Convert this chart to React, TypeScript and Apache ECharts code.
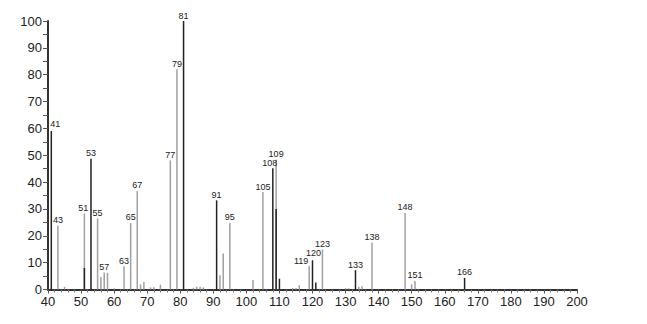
import React, { useEffect, useRef } from "react";
import * as echarts from "echarts";

const grayMz = [43, 45, 51, 55, 56, 57, 58, 60, 63, 65, 67, 68, 69, 71, 72, 74, 77, 79, 84, 85, 86, 87, 92, 93, 95, 102, 105, 109, 114, 115, 116, 119, 123, 130, 131, 134, 135, 138, 148, 150, 151];
const grayInt = [23.7, 1, 28.3, 26.5, 4.7, 6.3, 6.2, 0.5, 8.7, 24.8, 36.7, 1.9, 2.8, 0.8, 0.8, 1.8, 48.1, 82, 0.6, 1, 1, 0.8, 5.3, 13.4, 24.8, 3.5, 36.3, 48.3, 0.6, 0.6, 1.6, 8.8, 14.9, 0.5, 0.5, 1, 1.2, 17.5, 28.5, 1.9, 3.2];
const blackMz = [41, 51, 53, 81, 91, 108, 109, 110, 120, 121, 133, 166];
const blackInt = [59, 8, 48.7, 100, 33.2, 45.2, 30, 4, 10.9, 2.6, 7.2, 4.3];
const labeledMz = [41, 43, 51, 53, 55, 57, 63, 65, 67, 77, 79, 81, 91, 95, 105, 108, 109, 119, 120, 123, 133, 138, 148, 151, 166];
const labelShift: Record<number, number[]> = { 41: [4, -2], 108: [-3, 0], 119: [-8, 1], 120: [1, -2], 51: [-1, 0] };
const blackLabelOwner = [41, 53, 81, 91, 108, 120, 133, 166];

export default function App() {
  const ref = useRef<HTMLDivElement>(null);
  useEffect(() => {
    if (!ref.current) return;
    const chart = echarts.init(ref.current, undefined, { renderer: "svg" });
    const mk = (mz: number[], it: number[], color: string, isBlack: boolean) =>
      mz.map((m, i) => {
        const showLabel = labeledMz.includes(m) && (isBlack ? blackLabelOwner.includes(m) : !blackLabelOwner.includes(m));
        return {
          value: [m, it[i]],
          itemStyle: { color },
          label: showLabel
            ? { show: true, formatter: String(m), offset: labelShift[m] || [0, 0] }
            : { show: false },
        };
      });
    const labelCommon = {
      position: "top",
      distance: 1,
      fontSize: 9,
      color: "#222",
      fontFamily: "Liberation Sans, Arial, sans-serif",
    };
    chart.setOption({
      animation: false,
      grid: { left: 48, right: 70, top: 21, bottom: 34.5 },
      xAxis: {
        type: "value",
        min: 40,
        max: 200,
        interval: 10,
        axisLine: { show: true, lineStyle: { color: "#333", width: 2 } },
        axisTick: { show: true, length: 4, lineStyle: { color: "#555" } },
        minorTick: { show: true, splitNumber: 5, length: 3, lineStyle: { color: "#777" } },
        splitLine: { show: false },
        axisLabel: { fontSize: 13, color: "#222", margin: 5, fontFamily: "Liberation Sans, Arial, sans-serif" },
      },
      yAxis: {
        type: "value",
        min: 0,
        max: 100,
        interval: 10,
        axisLine: { show: true, lineStyle: { color: "#333", width: 2 } },
        axisTick: { show: true, length: 5, lineStyle: { color: "#555" } },
        minorTick: { show: true, splitNumber: 2, length: 5, lineStyle: { color: "#555" } },
        splitLine: { show: false },
        axisLabel: { fontSize: 13, color: "#222", margin: 6, fontFamily: "Liberation Sans, Arial, sans-serif" },
      },
      series: [
        {
          type: "bar",
          barWidth: 1.5,
          barGap: "-100%",
          data: mk(grayMz, grayInt, "#a0a0a0", false),
          label: labelCommon,
        },
        {
          type: "bar",
          barWidth: 1.5,
          barGap: "-100%",
          data: mk(blackMz, blackInt, "#222", true),
          label: labelCommon,
        },
      ],
    });
    return () => chart.dispose();
  }, []);
  return <div ref={ref} style={{ width: 647, height: 324, margin: -8 }} />;
}
